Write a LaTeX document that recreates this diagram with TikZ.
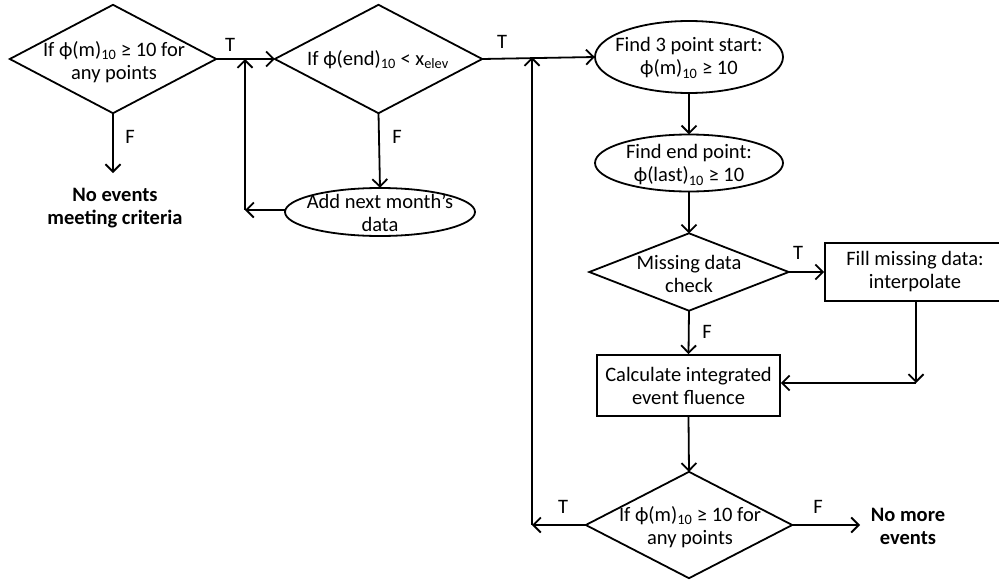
\documentclass[tikz,border=0pt]{standalone}
\usepackage{fontspec}
\setmainfont{Carlito}
\usetikzlibrary{arrows.meta}
\begin{document}
\begin{tikzpicture}[x=1pt,y=-1pt,
  every node/.style={font=\fontsize{20.5}{23}\selectfont},
  arr/.style={line width=1.8pt,-{Straight Barb[length=7.5pt,width=15pt,line width=1.8pt]}},
  shapebox/.style={rectangle,inner sep=0pt,align=center},
  border/.style={line width=1.8pt,line join=miter},
  box/.style={draw,line width=1.8pt,rectangle,inner sep=0pt,align=center},
  lab/.style={inner sep=0pt},
  endtxt/.style={align=center,font=\fontsize{20.5}{23}\selectfont\bfseries}]
\useasboundingbox (0,0) rectangle (999,581);
\fill[white] (0,0) rectangle (999,581);
\newcommand{\phisym}{ϕ}
% decision diamonds (outline drawn through the anchors)
\node[shapebox,minimum width=206pt,minimum height=108pt] (d1) at (113,59) {};
\node[shapebox,minimum width=207pt,minimum height=108pt] (d2) at (378.5,59) {};
\node[shapebox,minimum width=199pt,minimum height=77pt] (d3) at (689,272) {};
\node[shapebox,minimum width=206pt,minimum height=106pt] (d4) at (689,525) {};
\foreach \d in {d1,d2,d3,d4}
  \draw[border] (\d.north) -- (\d.east) -- (\d.south) -- (\d.west) -- cycle;
\node[shapebox] (d1t) at (114,62) {If \phisym(m)\textsubscript{10} ≥ 10 for\\any points};
\node[shapebox] (d2t) at (378,60) {If \phisym(end)\textsubscript{10} < x\textsubscript{elev}};
\node[shapebox] (d3t) at (689,274) {Missing data\\check};
\node[shapebox] (d4t) at (690,527) {If \phisym(m)\textsubscript{10} ≥ 10 for\\any points};
% ellipses (outline drawn through the anchors)
\node[shapebox,minimum width=190pt,minimum height=48pt] (e1) at (380,212) {};
\node[shapebox,minimum width=188pt,minimum height=72pt] (e2) at (689,57) {};
\node[shapebox,minimum width=188pt,minimum height=57pt] (e3) at (689,163) {};
\draw[border] (e1.center) ellipse [x radius=95pt, y radius=24pt];
\draw[border] (e2.center) ellipse [x radius=94pt, y radius=36pt];
\draw[border] (e3.center) ellipse [x radius=94pt, y radius=28.5pt];
\node[shapebox] (e1t) at (380,213) {Add next month’s\\data};
\node[shapebox] (e2t) at (689,58) {Find 3 point start:\\\phisym(m)\textsubscript{10} ≥ 10};
\node[shapebox] (e3t) at (689,165) {Find end point:\\\phisym(last)\textsubscript{10} ≥ 10};
% process boxes
\node[box,minimum width=180pt,minimum height=58pt] (b1) at (915,272) {Fill missing data:\\interpolate};
\node[box,minimum width=183pt,minimum height=61pt] (b2) at (688.5,385.5) {Calculate integrated\\event fluence};
\node[endtxt] (t1) at (115,208) {No events\\meeting criteria};
\node[endtxt] (t2) at (908,526) {No more\\events};
\coordinate (j1) at (245,59);
\coordinate (j1b) at (245,210);
\coordinate (j2) at (532,57);
\coordinate (j2b) at (532,525);
\coordinate (j3) at (916,383);
\coordinate (f1) at (113,173);
\coordinate (f2) at (860,525);
\draw[arr] (d1.east) -- (d2.west);
\draw[arr] (j1b) -- (j1);
\draw[arr] (e1.west |- j1b) -- (j1b);
\draw[arr] (d1.south) -- (f1);
\draw[arr] (d2.south) -- (e1.north);
\draw[arr] (d2.east) -- (e2.west);
\draw[arr] (j2b) -- (j2);
\draw[arr] (d4.west) -- (j2b);
\draw[arr] (e2.south) -- (e3.north);
\draw[arr] (e3.south) -- (d3.north);
\draw[arr] (d3.east) -- (b1.west);
\draw[arr] (d3.south) -- (b2.north);
\draw[arr] (b2.south) -- (d4.north);
\draw[arr] (d4.east) -- (f2);
\draw[arr] (b1.south -| j3) -- (j3);
\draw[arr] (j3) -- (b2.east |- j3);
\node[lab] (lt1) at (230,45) {T};
\node[lab] (lf1) at (130,137) {F};
\node[lab] (lf2) at (397,137) {F};
\node[lab] (lt2) at (502,42) {T};
\node[lab] (lt3) at (798,253) {T};
\node[lab] (lf3) at (707,332) {F};
\node[lab] (lt4) at (563,507) {T};
\node[lab] (lf4) at (818,507) {F};
\end{tikzpicture}
\end{document}
